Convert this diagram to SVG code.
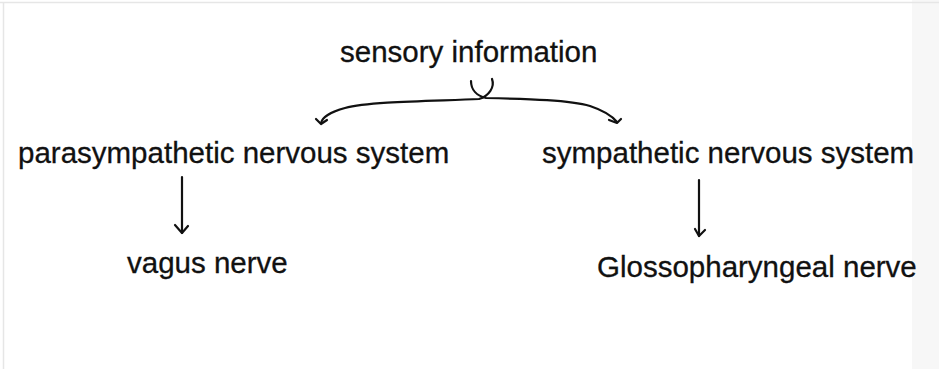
<svg xmlns="http://www.w3.org/2000/svg" width="939" height="369" viewBox="0 0 939 369">
<style>
.t{font-family:"Liberation Sans",Arial,sans-serif;font-size:29.5px;fill:#111;stroke:#111;stroke-width:0.3}
.c{fill:none;stroke:#111;stroke-width:2.2;stroke-linecap:round;stroke-linejoin:round}
</style>
<rect x="0" y="0" width="939" height="369" fill="#ffffff"/>
<rect x="912" y="0" width="27" height="369" fill="#f7f7f7"/>
<line x1="0" y1="2.5" x2="939" y2="2.5" stroke="#e6e6e6" stroke-width="1.5"/>
<line x1="3.5" y1="2" x2="3.5" y2="369" stroke="#e6e6e6" stroke-width="1.5"/>
<g id="sensory"><text class="t" x="340" y="62">sensory information</text></g>
<g id="parasympathetic"><text class="t" x="18" y="163">parasympathetic nervous system</text></g>
<g id="sympathetic"><text class="t" x="542" y="163">sympathetic nervous system</text></g>
<g id="vagus"><text class="t" x="127" y="273">vagus nerve</text></g>
<g id="glosso"><text class="t" x="597" y="277">Glossopharyngeal nerve</text></g>
<g id="connectors">
<path class="c" d="M492,79 C495,87 489,96 479,99 C440,101 370,101 345,108 C330,112 322,118 321,123"/>
<polyline class="c" points="316,119 321,124 327,120"/>
<path class="c" d="M471,81 C471,90 477,96 486,98 C530,99 570,100 590,106 C605,111 613,117 617,122"/>
<polyline class="c" points="609,120 617,123 621,119"/>
<line class="c" x1="182" y1="177" x2="182" y2="233"/>
<polyline class="c" points="175,225 182,233 188,226"/>
<line class="c" x1="699" y1="180" x2="699" y2="236"/>
<polyline class="c" points="695,229 699,236 705,230"/>
</g>
</svg>
